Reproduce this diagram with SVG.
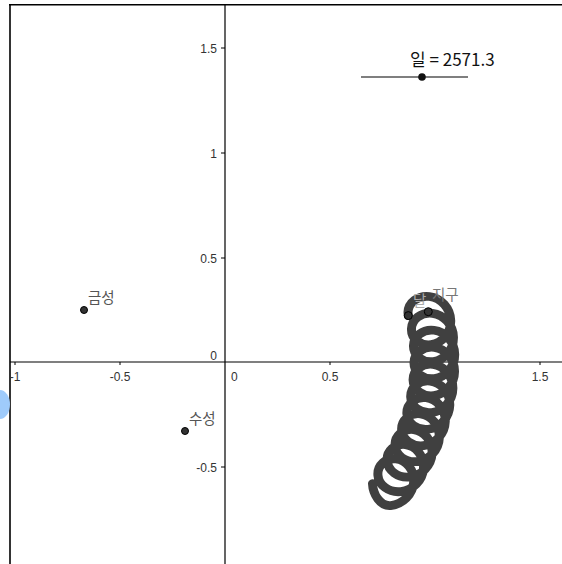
<svg xmlns="http://www.w3.org/2000/svg" width="562" height="564" viewBox="0 0 562 564">
<style>
.ax{stroke:#000;stroke-width:1.2;fill:none}
.tk{stroke:#000;stroke-width:1;fill:none}
.lbl{font-family:"Liberation Sans","Noto Sans CJK KR",sans-serif;font-size:12px;fill:#333}
.nm{font-family:"Noto Sans CJK KR","Liberation Sans",sans-serif;font-size:14.5px;fill:#555}
.trace{fill:none;stroke:#404040;stroke-width:9;stroke-linecap:round;stroke-linejoin:round}
.pt{fill:#333;stroke:#000;stroke-width:1}
</style>
<rect width="562" height="564" fill="#fff"/>
<path d="M9,4.8 H562" stroke="#000" stroke-width="1.6"/>
<path d="M10,4 V564" stroke="#000" stroke-width="1.6"/>
<path d="M0,390 A10,14.5 0 0 1 0,419 Z" fill="#9fcbfb"/>
<g id="axes">
<path class="ax" d="M10,362 H562 M225,5 V564"/>
<path class="tk" d="M221,48 H225 M221,153 H225 M221,258 H225 M221,467 H225 M15,362 V365 M120,362 V365 M330,362 V365 M435,362 V365 M540,362 V365"/>
<text class="lbl" x="217" y="53" text-anchor="end">1.5</text>
<text class="lbl" x="217" y="158" text-anchor="end">1</text>
<text class="lbl" x="217" y="263" text-anchor="end">0.5</text>
<text class="lbl" x="217" y="360" text-anchor="end">0</text>
<text class="lbl" x="217" y="472" text-anchor="end">-0.5</text>
<text class="lbl" x="15" y="381" text-anchor="middle">-1</text>
<text class="lbl" x="120" y="381" text-anchor="middle">-0.5</text>
<text class="lbl" x="231" y="381">0</text>
<text class="lbl" x="330" y="381" text-anchor="middle">0.5</text>
<text class="lbl" x="540" y="381" text-anchor="middle">1.5</text>
</g>
<g id="slider">
<path d="M361,77 H468" stroke="#000" stroke-width="1.2"/>
<circle cx="422" cy="77" r="3.8" fill="#111"/>
<text x="410" y="66" font-family="Noto Sans CJK KR,Liberation Sans,sans-serif" font-size="17" fill="#111">일 = 2571.3</text>
</g>
<g id="trace">
<path class="trace" transform="matrix(1,0,0,0.975,0,7.8)" d="M408.27,315.70 L408.00,312.23
c0.33,-9.85 9.80,-17.56 21.40,-16.14
c11.57,1.43 21.00,11.99 21.31,24.68
c0.27,12.70 -8.59,23.27 -19.58,24.70
c-11.03,1.44 -19.92,-6.26 -19.67,-16.09
c0.21,-9.82 9.56,-17.52 21.04,-16.07
c11.45,1.45 20.76,12.03 20.95,24.74
c0.15,12.72 -8.83,23.30 -19.95,24.75
c-11.15,1.45 -20.16,-6.23 -20.04,-16.04
c0.09,-9.81 9.32,-17.49 20.67,-16.04
c11.33,1.46 20.52,12.05 20.58,24.77
c0.03,12.73 -9.07,23.32 -20.31,24.77
c-11.27,1.46 -20.40,-6.22 -20.40,-16.03
c-0.03,-9.81 9.07,-17.49 20.31,-16.03
c11.21,1.46 20.28,12.05 20.22,24.77
c-0.09,12.72 -9.32,23.31 -20.68,24.77
c-11.39,1.45 -20.64,-6.23 -20.77,-16.04
c-0.15,-9.82 8.83,-17.50 19.94,-16.05
c11.08,1.45 20.03,12.03 19.85,24.74
c-0.21,12.71 -9.56,23.29 -21.04,24.73
c-11.51,1.44 -20.89,-6.26 -21.13,-16.09
c-0.27,-9.84 8.59,-17.54 19.58,-16.10
c10.96,1.43 19.80,11.99 19.49,24.68
c-0.33,12.69 -9.80,23.24 -21.40,24.66
c-11.63,1.41 -21.12,-6.31 -21.49,-16.16
c-0.39,-9.86 8.35,-17.59 19.23,-16.19
c10.85,1.40 19.56,11.93 19.14,24.59
c-0.45,12.65 -10.03,23.17 -21.75,24.56
c-11.75,1.38 -21.36,-6.38 -21.84,-16.27
c-0.51,-9.90 8.12,-17.67 18.88,-16.30
c10.73,1.36 19.33,11.85 18.79,24.47
c-0.56,12.61 -10.26,23.09 -22.09,24.43
c-11.86,1.33 -21.58,-6.47 -22.18,-16.40
c-0.62,-9.95 7.89,-17.76 18.54,-16.44
c10.62,1.31 19.11,11.75 18.46,24.32
c-0.67,12.56 -10.48,22.99 -22.42,24.28
c-11.97,1.28 -21.80,-6.58 -22.50,-16.57
c-0.73,-10.00 7.68,-17.87 18.22,-16.61
c10.51,1.25 18.89,11.63 18.14,24.14
c-0.78,12.50 -10.69,22.86 -22.74,24.10
c-12.07,1.22 -22.01,-6.70 -22.82,-16.75
c-0.83,-10.07 7.47,-18.00 17.91,-16.81
c10.41,1.18 18.69,11.49 17.83,23.94
c-0.88,12.43 -10.89,22.73 -23.04,23.89
c-10.50,0.90 -17.65,-11.49 -18.15,-22.49"/>
</g>
<g id="venus">
<circle class="pt" cx="84" cy="310" r="3.5"/>
<text class="nm" x="88" y="303">금성</text>
</g>
<g id="mercury">
<circle class="pt" cx="185" cy="431" r="3.5"/>
<text class="nm" x="189" y="424">수성</text>
</g>
<g id="moon">
<circle class="pt" cx="408.3" cy="315.6" r="4"/>
<text class="nm" x="413" y="306" style="fill:#aaa">달</text>
</g>
<g id="earth">
<circle class="pt" cx="428.3" cy="311.7" r="4"/>
<text class="nm" x="432" y="300" style="fill:#777">지구</text>
</g>
</svg>
